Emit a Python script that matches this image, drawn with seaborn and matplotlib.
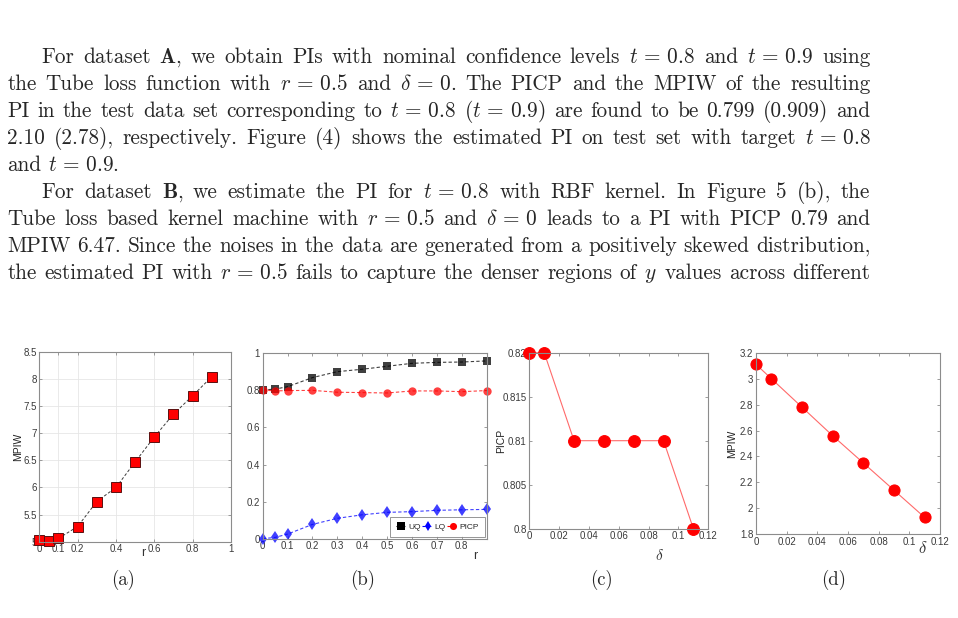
import matplotlib
matplotlib.use("Agg")
import matplotlib.pyplot as plt
import seaborn as sns
import pandas as pd
import numpy as np

# ---------------- data ----------------
r_a = [0, 0.05, 0.1, 0.2, 0.3, 0.4, 0.5, 0.6, 0.7, 0.8, 0.9]
mpiw_a = [5.03, 5.02, 5.06, 5.28, 5.74, 6.00, 6.47, 6.93, 7.35, 7.69, 8.04]

r_b = [0, 0.05, 0.1, 0.2, 0.3, 0.4, 0.5, 0.6, 0.7, 0.8, 0.9]
uq_b = [0.802, 0.807, 0.82, 0.869, 0.901, 0.914, 0.930, 0.946, 0.951, 0.953, 0.959]
lq_b = [0.0, 0.007, 0.025, 0.077, 0.11, 0.129, 0.142, 0.146, 0.153, 0.156, 0.158]
picp_b = [0.802, 0.797, 0.799, 0.800, 0.790, 0.788, 0.786, 0.797, 0.797, 0.793, 0.799]

delta_c = [0, 0.01, 0.03, 0.05, 0.07, 0.09, 0.11]
picp_c = [0.82, 0.82, 0.81, 0.81, 0.81, 0.81, 0.80]

delta_d = [0, 0.01, 0.03, 0.05, 0.07, 0.09, 0.11]
mpiw_d = [3.11, 3.00, 2.78, 2.56, 2.35, 2.14, 1.93]

xticks_a = [0, 0.1, 0.2, 0.4, 0.6, 0.8, 1]
xticklabels_a = ["0", "0.1", "0.2", "0.4", "0.6", "0.8", "1"]
yticks_a = [5, 5.5, 6, 6.5, 7, 7.5, 8, 8.5]
yticklabels_a = ["5", "5.5", "6", "6.5", "7", "7.5", "8", "8.5"]
xticks_b = [0, 0.1, 0.2, 0.3, 0.4, 0.5, 0.6, 0.7, 0.8]
xticklabels_b = ["0", "0.1", "0.2", "0.3", "0.4", "0.5", "0.6", "0.7", "0.8"]
yticks_b = [0, 0.2, 0.4, 0.6, 0.8, 1]
yticklabels_b = ["0", "0.2", "0.4", "0.6", "0.8", "1"]
xticks_cd = [0, 0.02, 0.04, 0.06, 0.08, 0.1, 0.12]
xticklabels_cd = ["0", "0.02", "0.04", "0.06", "0.08", "0.1", "0.12"]
yticks_c = [0.8, 0.805, 0.81, 0.815, 0.82]
yticklabels_c = ["0.8", "0.805", "0.81", "0.815", "0.82"]
yticks_d = [1.8, 2.0, 2.2, 2.4, 2.6, 2.8, 3.0, 3.2]
yticklabels_d = ["1.8", "2", "2.2", "2.4", "2.6", "2.8", "3", "3.2"]

captions = ["(a)", "(b)", "(c)", "(d)"]

para_lines = [
    (True, True, r"For dataset $\mathbf{A}$, we obtain PIs with nominal confidence levels $t\,=\,0.8$ and $t\,=\,0.9$ using"),
    (False, True, r"the Tube loss function with $r\,=\,0.5$ and $\delta\,=\,0$.  The PICP and the MPIW of the resulting"),
    (False, True, r"PI in the test data set corresponding to $t\,=\,0.8$ $(t\,=\,0.9)$ are found to be 0.799 (0.909) and"),
    (False, True, r"2.10 (2.78), respectively.  Figure (4) shows the estimated PI on test set with target $t\,=\,0.8$"),
    (False, False, r"and $t\,=\,0.9$."),
    (True, True, r"For dataset $\mathbf{B}$, we estimate the PI for $t\,=\,0.8$ with RBF kernel.  In Figure 5 (b), the"),
    (False, True, r"Tube loss based kernel machine with $r\,=\,0.5$ and $\delta\,=\,0$ leads to a PI with PICP 0.79 and"),
    (False, True, r"MPIW 6.47. Since the noises in the data are generated from a positively skewed distribution,"),
    (False, True, r"the estimated PI with $r\,=\,0.5$ fails to capture the denser regions of $y$ values across different"),
]

# ---------------- style ----------------
sns.set_theme(style="white")
plt.rcParams["font.family"] = ["Liberation Sans Narrow", "Liberation Sans", "DejaVu Sans"]
plt.rcParams["mathtext.fontset"] = "cm"
plt.rcParams["axes.unicode_minus"] = False

W, H = 958, 618
fig = plt.figure(figsize=(W / 100, H / 100), dpi=100)
fig.patch.set_facecolor("white")

def fx(px):
    return px / W

def fy(py):
    return 1 - py / H

# ---------------- paragraph text ----------------
renderer = fig.canvas.get_renderer()
FS = 15.3
left_margin, indent_x, right_edge = 7.3, 41.0, 870.5
base_y0, line_gap = 63.0, 27.0
for i, (indent, justify, line) in enumerate(para_lines):
    y = base_y0 + i * line_gap
    x0 = indent_x if indent else left_margin
    words = line.split()
    arts = []
    widths = []
    for w in words:
        t = fig.text(0, 0, w, fontsize=FS, family="cmr10", va="baseline", ha="left")
        arts.append(t)
        widths.append(t.get_window_extent(renderer).width)
    total = sum(widths)
    n_gaps = len(words) - 1
    if justify and n_gaps > 0:
        gap = (right_edge - x0 - total) / n_gaps
    else:
        gap = 6.5
    x = x0
    for t, w in zip(arts, widths):
        t.set_position((fx(x), fy(y)))
        x += w + gap

# ---------------- axes helpers ----------------
SPINE = "#8c8c8c"
TICKC = "#3a3a3a"

def style_ax(ax, grid=False):
    for s in ax.spines.values():
        s.set_color(SPINE)
        s.set_linewidth(0.8)
        s.set_visible(True)
    ax.tick_params(direction="in", length=2.5, width=0.6, color=SPINE,
                   labelsize=7, labelcolor=TICKC, pad=2,
                   top=True, right=True, bottom=True, left=True,
                   labeltop=False, labelright=False)
    if grid:
        ax.grid(True, color="#e6e6e6", linewidth=0.6)
        ax.set_axisbelow(True)
    else:
        ax.grid(False)

def px_axes(l, t, r, b):
    return fig.add_axes([fx(l), fy(b), fx(r - l), (b - t) / H])

def place_ylabel(ax, text, center_px, left_px, width_px):
    ax.set_ylabel(text, fontsize=7.5, color="#222222")
    ax.yaxis.set_label_coords((center_px + 4 - left_px) / width_px, 0.5)

# ---- (a)
ax = px_axes(39.3, 351.7, 231.0, 541.7)
df_a = pd.DataFrame({"r": r_a, "MPIW": mpiw_a})
sns.lineplot(data=df_a, x="r", y="MPIW", ax=ax, color="#3c3c3c", linestyle=(0, (3, 2)),
             linewidth=0.7, marker="s", markersize=6.5, markerfacecolor="#ff0000",
             markeredgecolor="#5a1010", markeredgewidth=0.7, clip_on=False)
ax.set_xlim(0, 1)
ax.set_ylim(5, 8.5)
ax.set_xticks(xticks_a, xticklabels_a)
ax.set_yticks(yticks_a, yticklabels_a)
style_ax(ax, grid=True)
ax.set_xlabel("")
place_ylabel(ax, "MPIW", 19, 39.3, 191.7)
fig.text(fx(143), fy(553), "r", fontsize=9, color="#333333", ha="center", va="center",
         family=["Liberation Sans", "DejaVu Sans"])

# ---- (b)
ax = px_axes(262.7, 353.3, 486.7, 538.7)
df_b = pd.DataFrame({"r": r_b * 3,
                     "val": uq_b + lq_b + picp_b,
                     "series": ["UQ"] * len(r_b) + ["LQ"] * len(r_b) + ["PICP"] * len(r_b)})
sns.lineplot(data=df_b, x="r", y="val", hue="series", style="series", ax=ax,
             palette={"UQ": "#000000", "LQ": "#0000ff", "PICP": "#ff0000"},
             markers={"UQ": "s", "LQ": "d", "PICP": "o"},
             dashes={"UQ": (3, 2), "LQ": (3, 2), "PICP": (3, 2)},
             linewidth=0.8, markersize=6, markeredgewidth=0, alpha=1.0, clip_on=False)
for ln, c in zip(ax.lines[:3], ["#000000", "#0000ff", "#ff0000"]):
    ln.set_alpha(0.75)
    ln.set_markerfacecolor(c)
    ln.set_markeredgecolor(c)
ax.set_xlim(0, 0.9)
ax.set_ylim(0, 1)
ax.set_xticks(xticks_b, xticklabels_b)
ax.set_yticks(yticks_b, yticklabels_b)
style_ax(ax)
ax.set_xlabel("")
ax.set_ylabel("")
handles, labels = ax.get_legend_handles_labels()
leg = ax.legend(handles, labels, loc="lower right", ncol=3, fontsize=6,
                frameon=True, fancybox=False, edgecolor="#7a7a7a", handlelength=1.3,
                handletextpad=0.15, columnspacing=0.2, borderpad=0.7,
                borderaxespad=0.25, markerscale=0.85)
leg.get_frame().set_linewidth(0.7)
fig.text(fx(475.5), fy(556), "r", fontsize=9, color="#333333", ha="center", va="center",
         family=["Liberation Sans", "DejaVu Sans"])

# ---- (c)
ax = px_axes(529.3, 352.7, 708.3, 528.7)
df_c = pd.DataFrame({"delta": delta_c, "PICP": picp_c})
sns.lineplot(data=df_c, x="delta", y="PICP", ax=ax, color="#ff6a6a", linewidth=0.8,
             marker="o", markersize=8.5, markerfacecolor="#ff0000",
             markeredgecolor="#ff0000", clip_on=False)
ax.set_xlim(0, 0.12)
ax.set_ylim(0.8, 0.82)
ax.set_xticks(xticks_cd, xticklabels_cd)
ax.set_yticks(yticks_c, yticklabels_c)
style_ax(ax)
ax.set_xlabel(r"$\delta$", fontsize=11, color="#333333", labelpad=1)
ax.xaxis.set_label_coords(0.73, -0.11)
place_ylabel(ax, "PICP", 502, 529.3, 179.0)

# ---- (d)
ax = px_axes(756.0, 352.7, 940.0, 534.3)
df_d = pd.DataFrame({"delta": delta_d, "MPIW": mpiw_d})
sns.lineplot(data=df_d, x="delta", y="MPIW", ax=ax, color="#ff6a6a", linewidth=0.8,
             marker="o", markersize=8, markerfacecolor="#ff0000",
             markeredgecolor="#ff0000", clip_on=False)
ax.set_xlim(0, 0.12)
ax.set_ylim(1.8, 3.2)
ax.set_xticks(xticks_cd, xticklabels_cd)
ax.set_yticks(yticks_d, yticklabels_d)
style_ax(ax)
ax.set_xlabel("")
place_ylabel(ax, "MPIW", 733, 756.0, 184.0)
fig.text(fx(923), fy(548), r"$\delta$", fontsize=12, color="#333333", ha="center", va="center")

# ---------------- captions ----------------
for cx, cap in zip([123, 363, 601, 834], captions):
    fig.text(fx(cx), fy(580), cap, fontsize=13.5, family="cmr10", ha="center", va="center")

fig.savefig("out.png", dpi=100, facecolor="white")
